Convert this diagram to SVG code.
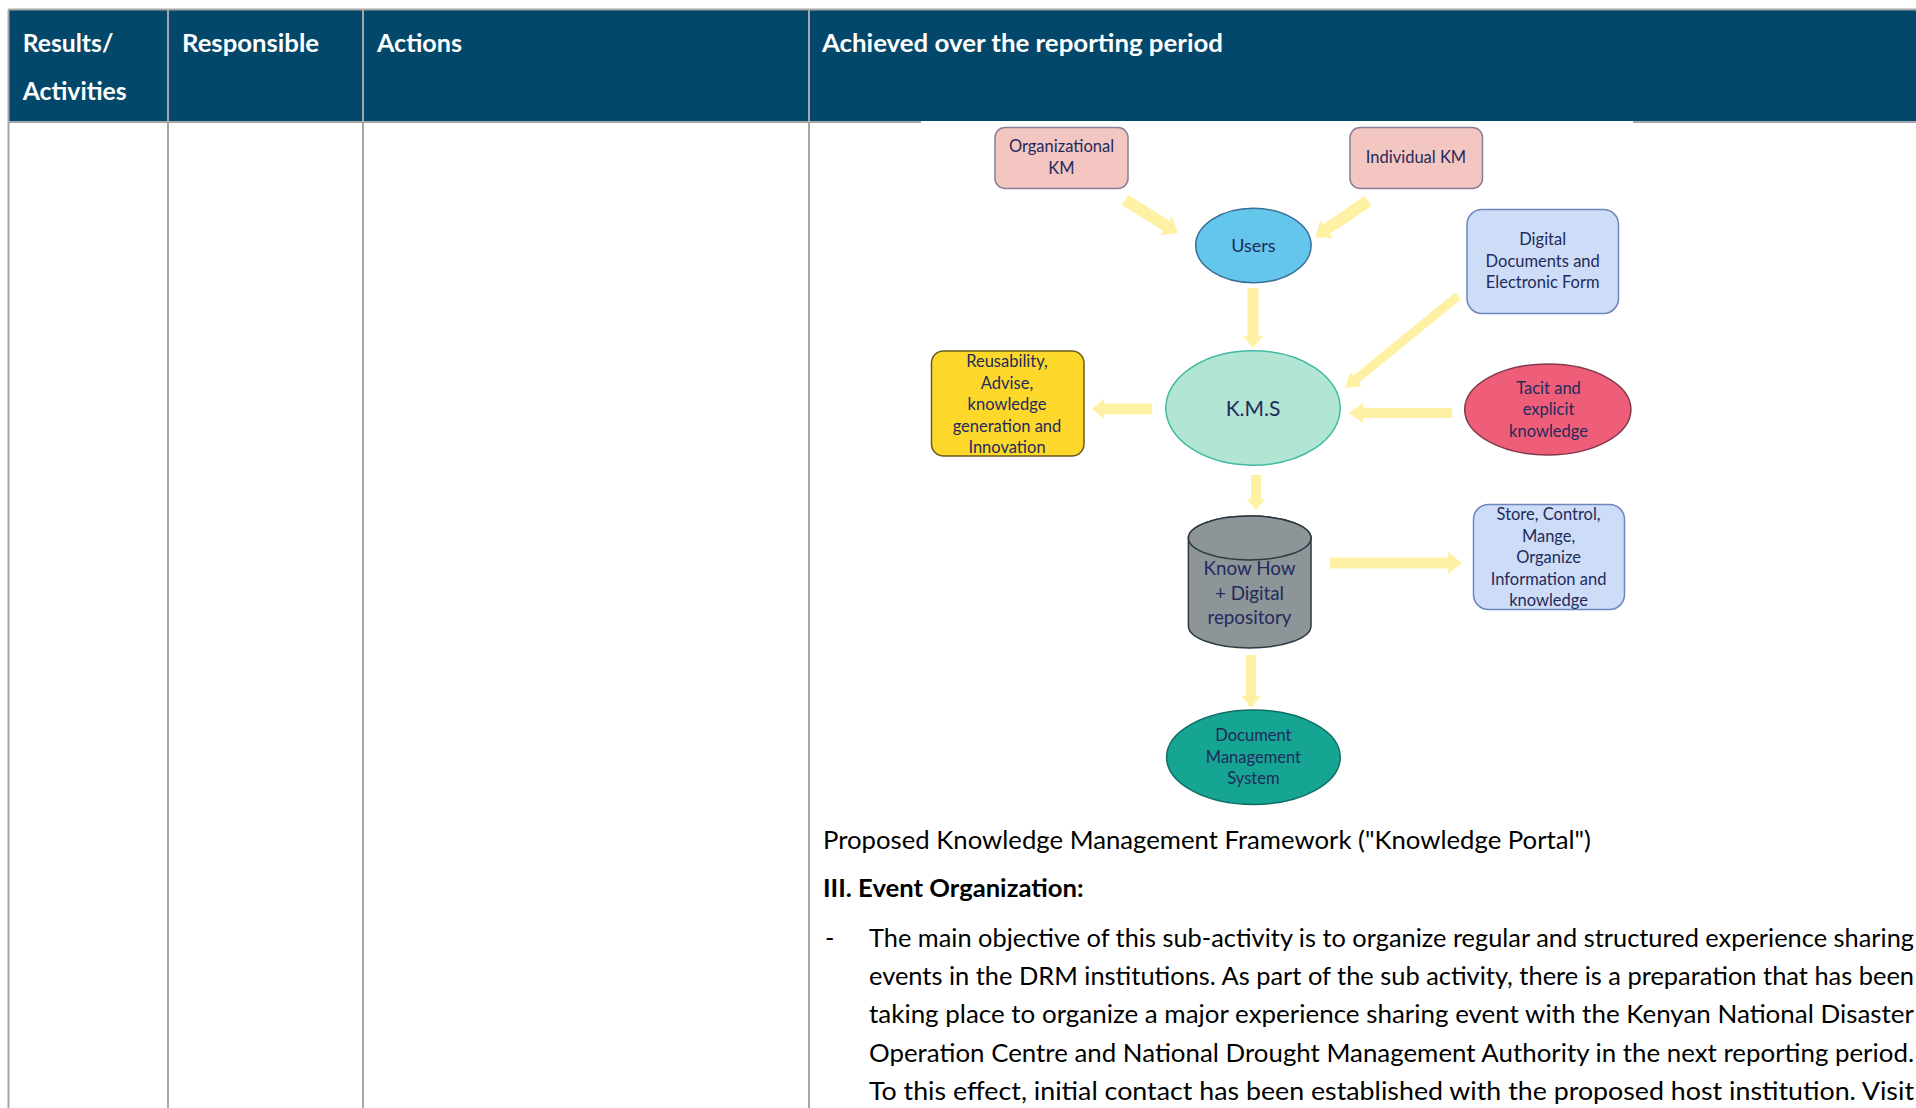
<svg xmlns="http://www.w3.org/2000/svg" width="1916" height="1108" viewBox="0 0 1916 1108">
<defs>
<style>
.hdr{font-family:Lato,"Open Sans","Liberation Sans",sans-serif;font-weight:bold;font-size:25px;fill:#ffffff}
.body{font-family:Lato,"Open Sans","Liberation Sans",sans-serif;font-size:25.3px;fill:#000000}
.bold{font-weight:bold}
.grid{stroke:#a6a6a6;stroke-width:2;fill:none}
.nt{font-family:Lato,"Open Sans","Liberation Sans",sans-serif;font-size:16.5px;fill:#1f2b5b;text-anchor:middle}
.arrow{fill:#fff1a3}
</style>
<path id="ah" d="M0,-1 L1,-1 L1,1 L0,1 Z"/>
</defs>
<rect x="0" y="0" width="1916" height="1108" fill="#ffffff"/>
<g id="table">
<rect x="8.5" y="9.5" width="1907.5" height="112.5" fill="#03486a"/>
<line class="grid" x1="8.5" y1="9.5" x2="1916" y2="9.5"/>
<line class="grid" x1="8.5" y1="122" x2="1916" y2="122"/>
<line class="grid" x1="8.5" y1="9.5" x2="8.5" y2="1108"/>
<line class="grid" x1="168" y1="9.5" x2="168" y2="1108"/>
<line class="grid" x1="363" y1="9.5" x2="363" y2="1108"/>
<line class="grid" x1="809" y1="9.5" x2="809" y2="1108"/>
<text class="hdr" x="22.7" y="52" textLength="90.7" lengthAdjust="spacingAndGlyphs">Results/</text>
<text class="hdr" x="22.7" y="100" textLength="104" lengthAdjust="spacingAndGlyphs">Activities</text>
<text class="hdr" x="182" y="52" textLength="137" lengthAdjust="spacingAndGlyphs">Responsible</text>
<text class="hdr" x="377" y="52" textLength="85" lengthAdjust="spacingAndGlyphs">Actions</text>
<text class="hdr" x="822" y="52" textLength="401" lengthAdjust="spacingAndGlyphs">Achieved over the reporting period</text>
</g>
<rect x="921" y="121" width="712" height="690" fill="#ffffff"/>
<g id="connectors">
<path class="arrow" d="M0,-6 L48.4,-6 L48.4,-11 L62.4,0 L48.4,11 L48.4,6 L0,6 Z" transform="translate(1125,200) rotate(31.9)"/>
<path class="arrow" d="M0,-6 L50,-6 L50,-11 L64,0 L50,11 L50,6 L0,6 Z" transform="translate(1368,201) rotate(145.8)"/>
<path class="arrow" d="M0,-5.5 L48,-5.5 L48,-10 L60,0 L48,10 L48,5.5 L0,5.5 Z" transform="translate(1253,288) rotate(90)"/>
<path class="arrow" d="M0,-4.5 L131.7,-4.5 L131.7,-9 L145.7,0 L131.7,9 L131.7,4.5 L0,4.5 Z" transform="translate(1458,296) rotate(140.8)"/>
<path class="arrow" d="M0,-5.5 L48,-5.5 L48,-10 L60,0 L48,10 L48,5.5 L0,5.5 Z" transform="translate(1152,409) rotate(180)"/>
<path class="arrow" d="M0,-5 L89,-5 L89,-10 L103,0 L89,10 L89,5 L0,5 Z" transform="translate(1452,413) rotate(180)"/>
<path class="arrow" d="M0,-5 L24,-5 L24,-9.5 L35,0 L24,9.5 L24,5 L0,5 Z" transform="translate(1256,475) rotate(90)"/>
<path class="arrow" d="M0,-5.5 L118,-5.5 L118,-11 L132,0 L118,11 L118,5.5 L0,5.5 Z" transform="translate(1330,563)"/>
<path class="arrow" d="M0,-5 L41,-5 L41,-9.5 L53,0 L41,9.5 L41,5 L0,5 Z" transform="translate(1251,655) rotate(90)"/>
</g>
<g id="org-km">
<rect x="995" y="127.5" width="133" height="61" rx="10" fill="#f4c6c1" stroke="#8b7d96" stroke-width="1.5"/>
<text class="nt" x="1061.5" y="152">Organizational</text>
<text class="nt" x="1061.5" y="174">KM</text>
</g>
<g id="individual-km">
<rect x="1350" y="127.5" width="132.5" height="61" rx="10" fill="#f4c6c1" stroke="#8b7d96" stroke-width="1.5"/>
<text class="nt" x="1416" y="163">Individual KM</text>
</g>
<g id="users">
<ellipse cx="1253.4" cy="245.5" rx="57.7" ry="37.2" fill="#63c6ea" stroke="#3a6f98" stroke-width="1.5"/>
<text class="nt" x="1253.4" y="252" style="font-size:18px">Users</text>
</g>
<g id="digital-docs">
<rect x="1467" y="209.5" width="151.5" height="104" rx="15" fill="#cddcf7" stroke="#6e86bd" stroke-width="1.5"/>
<text class="nt" x="1542.7" y="245">Digital</text>
<text class="nt" x="1542.7" y="266.7">Documents and</text>
<text class="nt" x="1542.7" y="288.3">Electronic Form</text>
</g>
<g id="reusability">
<rect x="931.5" y="351" width="152.5" height="105" rx="12" fill="#fdd82b" stroke="#6b5a1a" stroke-width="1.5"/>
<text class="nt" x="1007" y="367">Reusability,</text>
<text class="nt" x="1007" y="388.5">Advise,</text>
<text class="nt" x="1007" y="410">knowledge</text>
<text class="nt" x="1007" y="431.5">generation and</text>
<text class="nt" x="1007" y="453">Innovation</text>
</g>
<g id="kms">
<ellipse cx="1253" cy="408" rx="87.2" ry="57.2" fill="#b2e5d4" stroke="#43b8a4" stroke-width="1.5"/>
<text class="nt" x="1253" y="416" style="font-size:21px">K.M.S</text>
</g>
<g id="tacit">
<ellipse cx="1547.8" cy="409.5" rx="83.1" ry="45.5" fill="#ee5e78" stroke="#823a4b" stroke-width="1.5"/>
<text class="nt" x="1548.5" y="393.5">Tacit and</text>
<text class="nt" x="1548.5" y="415">explicit</text>
<text class="nt" x="1548.5" y="436.5">knowledge</text>
</g>
<g id="repository">
<path d="M1188.4,538 A61.3,22 0 0 1 1311,538 L1311,626 A61.3,22 0 0 1 1188.4,626 Z" fill="#8d9598" stroke="#2c3a40" stroke-width="1.5"/>
<ellipse cx="1249.7" cy="538" rx="61.3" ry="22" fill="#8d9598" stroke="#2c3a40" stroke-width="1.5"/>
<text class="nt" x="1249.5" y="575" style="font-size:18.8px">Know How</text>
<text class="nt" x="1249.5" y="599.5" style="font-size:18.8px">+ Digital</text>
<text class="nt" x="1249.5" y="624" style="font-size:18.8px">repository</text>
</g>
<g id="store">
<rect x="1473.5" y="504.5" width="151" height="105" rx="15" fill="#cddcf7" stroke="#6e86bd" stroke-width="1.5"/>
<text class="nt" x="1548.6" y="520">Store, Control,</text>
<text class="nt" x="1548.6" y="541.5">Mange,</text>
<text class="nt" x="1548.6" y="563">Organize</text>
<text class="nt" x="1548.6" y="584.5">Information and</text>
<text class="nt" x="1548.6" y="606">knowledge</text>
</g>
<g id="dms">
<ellipse cx="1253.4" cy="757.2" rx="86.8" ry="47.2" fill="#15a592" stroke="#0f6e64" stroke-width="1.5"/>
<text class="nt" x="1253.4" y="741">Document</text>
<text class="nt" x="1253.4" y="762.5">Management</text>
<text class="nt" x="1253.4" y="784">System</text>
</g>
<g id="body-text">
<text class="body" x="823" y="849" textLength="768" lengthAdjust="spacingAndGlyphs">Proposed Knowledge Management Framework ("Knowledge Portal")</text>
<text class="body bold" x="823" y="897" textLength="260.5" lengthAdjust="spacingAndGlyphs">III. Event Organization:</text>
<text class="body" x="825" y="946.7">-</text>
<text class="body" x="869" y="946.7" textLength="1045" lengthAdjust="spacingAndGlyphs">The main objective of this sub-activity is to organize regular and structured experience sharing</text>
<text class="body" x="869" y="985" textLength="1045" lengthAdjust="spacingAndGlyphs">events in the DRM institutions. As part of the sub activity, there is a preparation that has been</text>
<text class="body" x="869" y="1023.3" textLength="1045" lengthAdjust="spacingAndGlyphs">taking place to organize a major experience sharing event with the Kenyan National Disaster</text>
<text class="body" x="869" y="1061.7" textLength="1045" lengthAdjust="spacingAndGlyphs">Operation Centre and National Drought Management Authority in the next reporting period.</text>
<text class="body" x="869" y="1100" textLength="1045" lengthAdjust="spacingAndGlyphs">To this effect, initial contact has been established with the proposed host institution. Visit</text>
</g>
</svg>
